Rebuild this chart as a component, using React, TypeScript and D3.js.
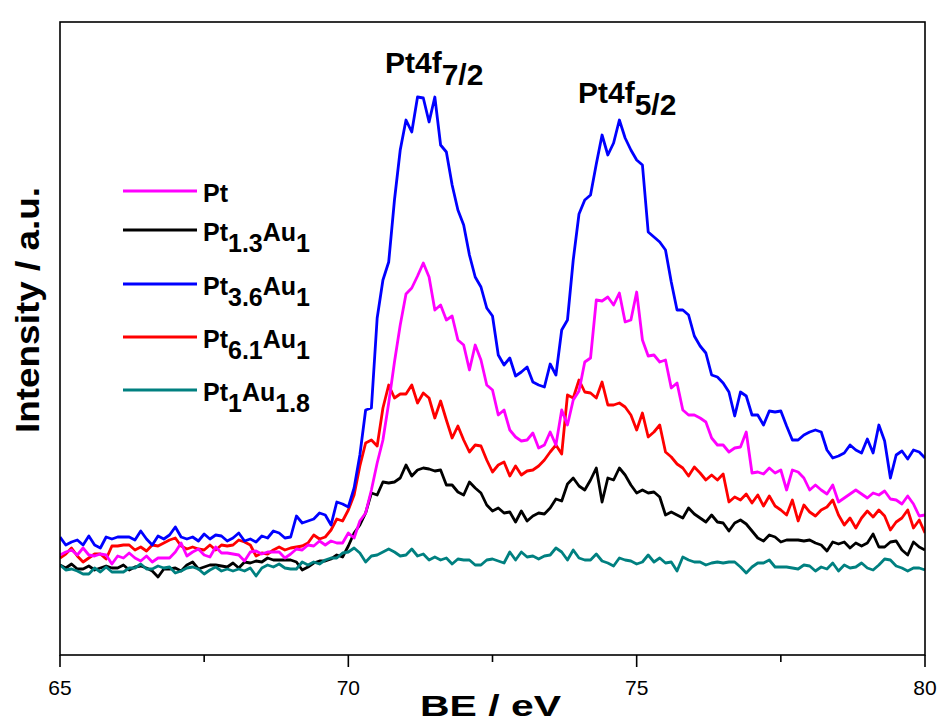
import React from "react";
import * as d3 from "d3";

// Binding energy grid (eV)
const BE_START = 65;
const BE_STEP = 0.1;

// Intensities (a.u.), one value per 0.1 eV from 65 to 80 eV
const ptValues = [100,103,105,100,107,100,99,101,100,91, 99,97,102,97,94,99,93,97,97,97,
  103,112,99,103,106,100,98,108,102,102, 101,100,94,103,104,101,103,103,103,97,
  101,106,105,110,109,114,110,114,112,112, 122,117,134,142,165,192,215,252,293,330,
  361,367,379,392,378,345,350,335,339,315, 310,285,310,295,270,265,240,245,225,218,
  214,215,222,207,210,223,210,245,230,255, 264,293,297,355,354,358,350,362,333,335,
  363,315,299,300,293,295,267,272,245,240, 240,237,233,217,210,210,203,207,208,223,
  182,183,181,187,182,185,165,185,183,177, 165,170,165,161,170,153,157,161,165,161,
  157,162,160,164,156,155,151,159,151,139, 140];

const pt13Au1Values = [90,87,91,86,86,89,85,87,89,87, 87,90,85,88,89,87,84,78,86,86,
  87,84,90,93,86,88,90,90,89,88, 92,87,93,92,94,93,97,95,95,95,
  95,93,85,88,92,94,94,96,100,98, 109,122,130,142,162,160,173,172,173,177,
  190,179,185,187,186,184,185,170,170,163, 160,173,167,162,150,144,147,142,143,133,
  144,134,139,142,141,147,156,154,171,177, 169,165,175,187,153,177,175,187,180,170,
  162,165,162,163,158,140,143,140,137,147, 141,137,133,140,133,132,124,132,135,131,
  124,117,114,120,118,113,115,115,115,114, 115,112,110,104,113,111,113,107,112,109,
  112,121,108,108,113,114,105,100,113,108, 105];

const pt36Au1Values = [118,110,113,115,110,119,110,107,118,116, 118,118,118,115,124,116,110,119,116,120,
  128,118,116,118,114,121,116,120,119,114, 117,122,114,116,113,119,117,124,122,117,
  118,139,132,134,136,142,140,130,153,151, 148,167,200,245,247,337,375,393,455,505,
  535,523,558,557,533,558,510,503,470,445, 430,400,378,368,347,339,300,290,297,279,
  283,288,273,270,268,291,280,325,335,395, 441,455,460,491,520,500,512,535,517,505,
  495,490,423,418,413,405,373,345,345,340, 319,309,302,280,278,272,263,239,263,259,
  240,240,230,244,243,244,229,215,215,220, 223,225,223,205,197,199,202,210,205,202,
  216,202,230,214,177,200,204,196,205,203, 197];

const pt61Au1Values = [97,101,107,99,93,97,101,101,96,109, 109,110,110,105,108,104,110,109,112,115,
  117,109,106,108,106,105,110,105,110,109, 110,115,113,110,99,102,101,105,108,105,
  107,108,109,112,120,116,118,125,136,134, 145,160,189,212,215,209,247,270,257,261,
  261,270,252,262,257,237,254,235,217,229, 215,203,210,209,195,183,190,193,179,189,
  180,184,185,189,195,203,210,201,260,257, 275,263,262,257,273,250,250,252,248,240,
  225,242,218,223,230,203,198,191,187,179, 188,182,175,180,175,181,153,158,155,161,
  152,160,149,159,149,145,140,155,134,150, 143,139,145,148,155,140,130,137,127,137,
  144,138,145,139,125,133,137,145,127,135, 122];

const pt1Au18Values = [90,85,86,84,81,81,87,83,88,83, 83,83,87,87,91,86,86,89,87,88,
  82,84,87,88,86,81,85,88,84,86, 84,86,84,87,79,87,90,88,91,87,
  86,86,93,90,93,91,95,97,97,102, 103,107,102,93,99,100,103,106,103,99,
  100,106,99,101,95,98,95,97,91,96, 95,95,90,90,95,96,94,92,103,95,
  103,98,99,96,99,100,107,103,95,105, 97,95,95,101,94,92,89,97,95,94,
  91,93,100,93,97,92,93,84,98,95, 93,93,90,92,93,92,93,93,88,82,
  88,92,92,95,88,88,88,87,86,90, 89,84,88,86,92,84,90,87,88,92,
  87,85,90,96,95,89,87,84,87,87, 85];

const majorTicks = [65, 70, 75, 80];
const minorTicks = [67.5, 72.5, 77.5];

type Part = { t: string; sub?: boolean };
const legendLabels: Part[][] = [
  [{ t: "Pt" }],
  [{ t: "Pt" }, { t: "1.3", sub: true }, { t: "Au" }, { t: "1", sub: true }],
  [{ t: "Pt" }, { t: "3.6", sub: true }, { t: "Au" }, { t: "1", sub: true }],
  [{ t: "Pt" }, { t: "6.1", sub: true }, { t: "Au" }, { t: "1", sub: true }],
  [{ t: "Pt" }, { t: "1", sub: true }, { t: "Au" }, { t: "1.8", sub: true }],
];
const seriesValues = [ptValues, pt13Au1Values, pt36Au1Values, pt61Au1Values, pt1Au18Values];
const seriesColors = ["#ff00ff", "#000000", "#0000ff", "#ff0000", "#008080"];
const drawOrder = [1, 3, 2, 4, 0];
const legendRowY = [191, 230, 284, 337, 390];

const W = 941, H = 724;
const M = { left: 60, right: 925, top: 22, bottom: 655 };
const FONT = "'Liberation Sans', Arial, sans-serif";

function RichText({ parts, x, y, size, shift }: { parts: Part[]; x: number; y: number; size: number; shift: number }) {
  let cur = 0;
  return (
    <text x={x} y={y} fontFamily={FONT} fontWeight="bold" fontSize={size} fill="#000">
      {parts.map((p, i) => {
        const target = p.sub ? shift : 0;
        const dy = target - cur;
        cur = target;
        return (
          <tspan key={i} dy={dy}>
            {p.t}
          </tspan>
        );
      })}
    </text>
  );
}

export default function App() {
  const x = d3.scaleLinear().domain([65, 80]).range([M.left, M.right]);
  const y = d3.scaleLinear().domain([0, 633]).range([M.bottom, M.top]);
  const line = d3
    .line<number>()
    .x((_, i) => x(BE_START + i * BE_STEP))
    .y((d) => y(d));

  return (
    <div style={{ position: "absolute", left: 0, top: 0 }}>
      <svg width={W} height={H} style={{ display: "block", background: "#fff" }}>
        <rect x={0} y={0} width={W} height={H} fill="#fff" />
        <defs>
          <clipPath id="plot">
            <rect x={M.left} y={M.top} width={M.right - M.left} height={M.bottom - M.top} />
          </clipPath>
        </defs>
        <g clipPath="url(#plot)">
          {drawOrder.map((si) => (
            <path
              key={si}
              d={line(seriesValues[si]) || ""}
              fill="none"
              stroke={seriesColors[si]}
              strokeWidth={2.8}
              strokeLinejoin="round"
            />
          ))}
        </g>
        <rect
          x={M.left}
          y={M.top}
          width={M.right - M.left}
          height={M.bottom - M.top}
          fill="none"
          stroke="#000"
          strokeWidth={1.6}
        />
        {majorTicks.map((t) => (
          <g key={"M" + t}>
            <line x1={x(t)} x2={x(t)} y1={M.bottom} y2={M.bottom + 12} stroke="#000" strokeWidth={1.6} />
            <text x={x(t)} y={695} textAnchor="middle" fontFamily={FONT} fontSize={21} fill="#000">
              {t}
            </text>
          </g>
        ))}
        {minorTicks.map((t) => (
          <line key={"m" + t} x1={x(t)} x2={x(t)} y1={M.bottom} y2={M.bottom + 7} stroke="#000" strokeWidth={1.6} />
        ))}
        <text
          x={420}
          y={716}
          textLength={141}
          lengthAdjust="spacingAndGlyphs"
          fontFamily={FONT}
          fontWeight="bold"
          fontSize={30}
          fill="#000"
        >
          BE / eV
        </text>
        <text
          transform={`translate(39, 433) rotate(-90)`}
          textLength={246}
          lengthAdjust="spacingAndGlyphs"
          fontFamily={FONT}
          fontWeight="bold"
          fontSize={34}
          fill="#000"
        >
          Intensity / a.u.
        </text>
        <RichText parts={[{ t: "Pt4f" }, { t: "7/2", sub: true }]} x={385} y={73} size={30} shift={12} />
        <RichText parts={[{ t: "Pt4f" }, { t: "5/2", sub: true }]} x={578} y={103} size={30} shift={12} />
        {legendLabels.map((parts, i) => (
          <g key={"L" + i}>
            <line x1={123} x2={197} y1={legendRowY[i]} y2={legendRowY[i]} stroke={seriesColors[i]} strokeWidth={3} />
            <RichText parts={parts} x={203} y={legendRowY[i] + 11} size={25} shift={11} />
          </g>
        ))}
      </svg>
    </div>
  );
}
